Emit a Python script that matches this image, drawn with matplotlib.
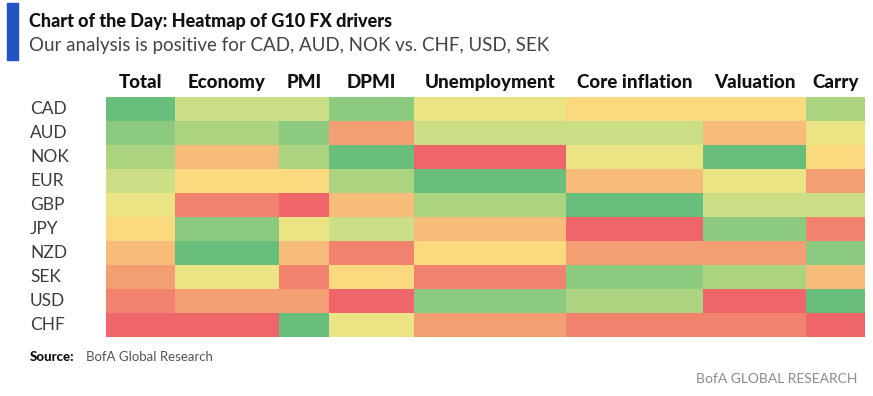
import numpy as np
import matplotlib
matplotlib.use("Agg")
import matplotlib.pyplot as plt
from matplotlib.colors import ListedColormap, BoundaryNorm
from matplotlib.transforms import blended_transform_factory

# rank of each currency per driver (1 = most positive, 10 = most negative)
currencies = ["CAD", "AUD", "NOK", "EUR", "GBP", "JPY", "NZD", "SEK", "USD", "CHF"]
drivers = ["Total", "Economy", "PMI", "DPMI", "Unemployment",
           "Core inflation", "Valuation", "Carry"]

total = [1, 2, 3, 4, 5, 6, 7, 8, 9, 10]
economy = [4, 3, 7, 6, 9, 2, 1, 5, 8, 10]
pmi = [4, 2, 3, 6, 10, 5, 7, 9, 8, 1]
dpmi = [2, 8, 1, 3, 7, 4, 9, 6, 10, 5]
unemployment = [5, 4, 10, 1, 3, 7, 6, 9, 2, 8]
core_inflation = [6, 4, 5, 7, 1, 10, 8, 2, 3, 9]
valuation = [6, 7, 1, 5, 4, 2, 8, 3, 10, 9]
carry = [3, 5, 6, 8, 4, 9, 2, 7, 1, 10]

# column widths in the original layout (pixels)
col_widths = [69, 104, 50, 85, 152, 137, 103, 59]

rank_colors = ["#69BE7C", "#8CCA80", "#ABD380", "#CBDD85", "#EAE484",
               "#FBD97F", "#F7BC79", "#F49F73", "#F1836E", "#EF666A"]

ranks = np.array([total, economy, pmi, dpmi, unemployment,
                  core_inflation, valuation, carry]).T

W, H = 873, 396
fig = plt.figure(figsize=(W / 100, H / 100), dpi=100)
fig.patch.set_facecolor("white")

ax = fig.add_axes([106 / W, 1 - 337 / H, (865 - 106) / W, (337 - 97) / H])

cmap = ListedColormap(rank_colors)
norm = BoundaryNorm(np.arange(0.5, 11.5, 1), cmap.N)
x_edges = np.concatenate([[0], np.cumsum(col_widths)])
y_edges = np.arange(len(currencies) + 1)
ax.pcolormesh(x_edges, y_edges, ranks, cmap=cmap, norm=norm)
ax.set_xlim(x_edges[0], x_edges[-1])
ax.set_ylim(len(currencies), 0)
ax.axis("off")

# column headers
centers = (x_edges[:-1] + x_edges[1:]) / 2
for cx, name in zip(centers, drivers):
    ax.text(cx, -0.25, name, ha="center", va="bottom", fontsize=13.5,
            fontweight="black", family="Lato", color="#111111")

# row labels
trans = blended_transform_factory(fig.transFigure, ax.transData)
for i, cur in enumerate(currencies):
    ax.text(30 / W, i + 0.5, cur, transform=trans, ha="left", va="center",
            fontsize=12.5, family="Lato", color="#3c3c3c")

# title block
fig.patches.append(plt.Rectangle((7 / W, 1 - 60 / H), 11 / W, 57 / H,
                                 transform=fig.transFigure, color="#2352C4"))
fig.text(29 / W, 1 - 21 / H, "Chart of the Day: Heatmap of G10 FX drivers",
         ha="left", va="center", fontsize=13, fontweight="black",
         family="Lato", color="#111111")
fig.text(29 / W, 1 - 46 / H,
         "Our analysis is positive for CAD, AUD, NOK vs. CHF, USD, SEK",
         ha="left", va="center", fontsize=13.5, family="Lato", color="#444444")

# footer
fig.text(30 / W, 1 - 357 / H, "Source:", ha="left", va="center",
         fontsize=9.5, fontweight="black", family="Lato", color="#111111")
fig.text(86 / W, 1 - 357 / H, "BofA Global Research", ha="left", va="center",
         fontsize=9.5, family="Lato", color="#555555")
fig.text(857 / W, 1 - 379 / H, "BofA GLOBAL RESEARCH", ha="right", va="center",
         fontsize=10, family="Lato", color="#8a8a8a")

fig.savefig("out.png", dpi=100)
